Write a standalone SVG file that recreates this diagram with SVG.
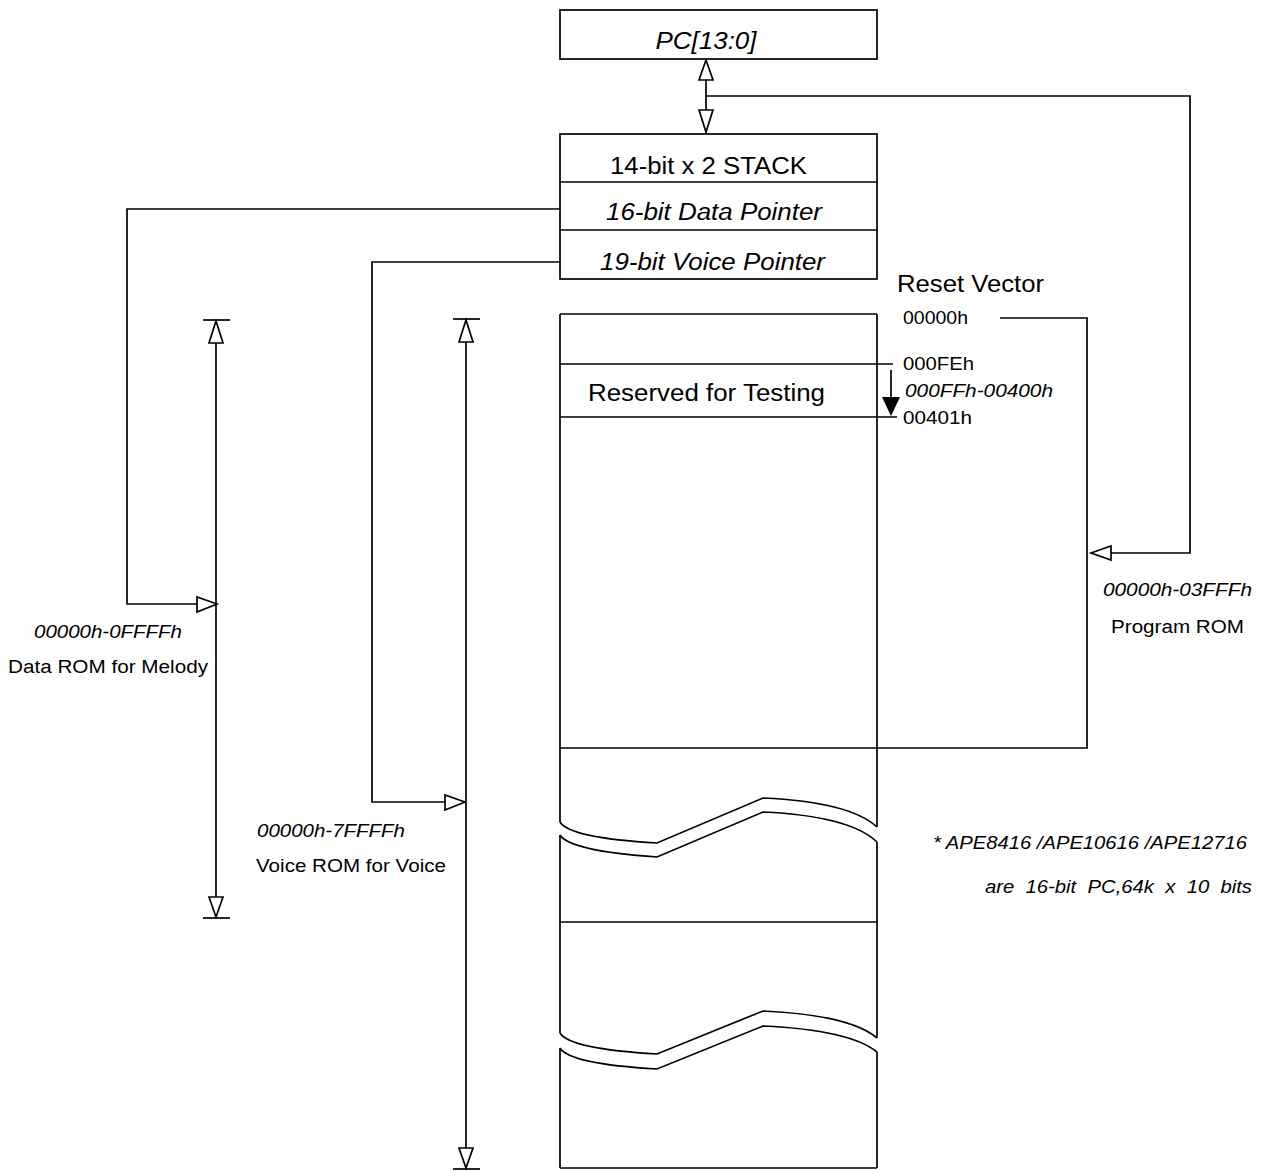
<svg xmlns="http://www.w3.org/2000/svg" width="1261" height="1172" viewBox="0 0 1261 1172">
<style>
.ln{fill:none;stroke:#000;stroke-width:1.7}
.box{fill:#fff;stroke:#000;stroke-width:1.7}
.ah{fill:#fff;stroke:#000;stroke-width:1.7}
.t{font-family:"Liberation Sans",Arial,sans-serif;fill:#000}
.big{font-size:23.5px}
.sm{font-size:18px}
.it{font-style:italic}
</style>
<rect width="1261" height="1172" fill="#fff"/>
<g id="connectors">
  <line class="ln" x1="706" y1="60" x2="706" y2="133"/>
  <polygon class="ah" points="706,60 699,80 713,80"/>
  <polygon class="ah" points="706,132 699,110 713,110"/>
  <polyline class="ln" points="706,96 1190,96 1190,553 1111,553"/>
  <polygon class="ah" points="1091,553 1111,546 1111,560"/>
  <polyline class="ln" points="1000,318 1087,318 1087,748 560,748"/>
  <polyline class="ln" points="560,209 127,209 127,604 197,604"/>
  <polygon class="ah" points="217,604 197,597 197,612"/>
  <polyline class="ln" points="560,262 372,262 372,802 445,802"/>
  <polygon class="ah" points="465,802 445,795 445,810"/>
  <line class="ln" x1="216" y1="320" x2="216" y2="918"/>
  <line class="ln" x1="203" y1="320" x2="230" y2="320"/>
  <line class="ln" x1="203" y1="918" x2="230" y2="918"/>
  <polygon class="ah" points="216,321 209,343 223,343"/>
  <polygon class="ah" points="216,917 209,897 223,897"/>
  <line class="ln" x1="466" y1="319" x2="466" y2="1169"/>
  <line class="ln" x1="453" y1="319" x2="480" y2="319"/>
  <line class="ln" x1="453" y1="1169" x2="480" y2="1169"/>
  <polygon class="ah" points="466,320 459,342 473,342"/>
  <polygon class="ah" points="466,1168 459,1148 473,1148"/>
</g>
<g id="pc">
  <rect class="box" x="560" y="10" width="317" height="49"/>
  <text class="t big it" x="706" y="49" text-anchor="middle" textLength="101" lengthAdjust="spacingAndGlyphs">PC[13:0]</text>
</g>
<g id="stack">
  <rect class="box" x="560" y="134" width="317" height="145"/>
  <line class="ln" x1="560" y1="182" x2="877" y2="182"/>
  <line class="ln" x1="560" y1="230" x2="877" y2="230"/>
  <text class="t big" x="610" y="174" textLength="197" lengthAdjust="spacingAndGlyphs">14-bit x 2 STACK</text>
  <text class="t big it" x="606" y="220" textLength="216" lengthAdjust="spacingAndGlyphs">16-bit Data Pointer</text>
  <text class="t big it" x="600" y="270" textLength="225" lengthAdjust="spacingAndGlyphs">19-bit Voice Pointer</text>
</g>
<g id="memory">
  <line class="ln" x1="560" y1="314" x2="877" y2="314"/>
  <line class="ln" x1="560" y1="1168" x2="877" y2="1168"/>
  <line class="ln" x1="560" y1="314" x2="560" y2="822"/>
  <line class="ln" x1="560" y1="835" x2="560" y2="1033"/>
  <line class="ln" x1="560" y1="1048" x2="560" y2="1168"/>
  <line class="ln" x1="877" y1="314" x2="877" y2="827"/>
  <line class="ln" x1="877" y1="842" x2="877" y2="1038"/>
  <line class="ln" x1="877" y1="1052" x2="877" y2="1168"/>
  <line class="ln" x1="560" y1="364" x2="893" y2="364"/>
  <line class="ln" x1="560" y1="417" x2="897" y2="417"/>
  <line class="ln" x1="560" y1="922" x2="877" y2="922"/>
  <path class="ln" d="M560,822 Q570,838 657,843 L763,798 Q850,802 877,827"/>
  <path class="ln" d="M560,835 Q570,851 657,857 L763,812 Q850,816 877,842"/>
  <path class="ln" d="M560,1033 Q570,1049 657,1054 L763,1011 Q850,1015 877,1038"/>
  <path class="ln" d="M560,1048 Q570,1064 657,1069 L763,1026 Q850,1030 877,1052"/>
  <line class="ln" x1="891" y1="370" x2="891" y2="398"/>
  <polygon points="882,397 900,397 891,416" fill="#000"/>
  <text class="t big" x="588" y="401" textLength="237" lengthAdjust="spacingAndGlyphs">Reserved for Testing</text>
</g>
<g id="labels">
  <text class="t big" x="897" y="292" textLength="147" lengthAdjust="spacingAndGlyphs">Reset Vector</text>
  <text class="t sm" x="903" y="324" textLength="65" lengthAdjust="spacingAndGlyphs">00000h</text>
  <text class="t sm" x="903" y="370" textLength="71" lengthAdjust="spacingAndGlyphs">000FEh</text>
  <text class="t sm it" x="905" y="397" textLength="148" lengthAdjust="spacingAndGlyphs">000FFh-00400h</text>
  <text class="t sm" x="903" y="424" textLength="69" lengthAdjust="spacingAndGlyphs">00401h</text>
  <text class="t sm it" x="1103" y="596" textLength="149" lengthAdjust="spacingAndGlyphs">00000h-03FFFh</text>
  <text class="t sm" x="1111" y="633" textLength="133" lengthAdjust="spacingAndGlyphs">Program ROM</text>
  <text class="t sm it" x="34" y="638" textLength="148" lengthAdjust="spacingAndGlyphs">00000h-0FFFFh</text>
  <text class="t sm" x="8" y="673" textLength="200" lengthAdjust="spacingAndGlyphs">Data ROM for Melody</text>
  <text class="t sm it" x="257" y="837" textLength="148" lengthAdjust="spacingAndGlyphs">00000h-7FFFFh</text>
  <text class="t sm" x="256" y="872" textLength="190" lengthAdjust="spacingAndGlyphs">Voice ROM for Voice</text>
  <text class="t sm it" x="933" y="849" textLength="314" lengthAdjust="spacingAndGlyphs">* APE8416 /APE10616 /APE12716</text>
  <text class="t sm it" x="985" y="893" textLength="267" lengthAdjust="spacingAndGlyphs" xml:space="preserve">are  16-bit  PC,64k  x  10  bits</text>
</g>
</svg>
